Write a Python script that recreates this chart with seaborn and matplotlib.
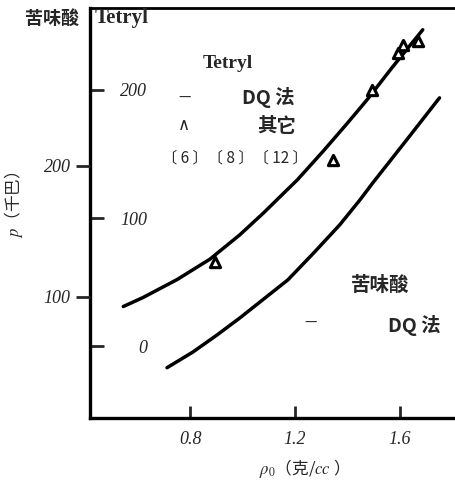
import matplotlib
matplotlib.use("Agg")
import matplotlib.pyplot as plt
import seaborn as sns
import pandas as pd

# Tetryl, DQ method curve (Tetryl scale, kbar)
tetryl_rho = [0.545, 0.62, 0.75, 0.876, 0.99, 1.08, 1.21, 1.307, 1.40, 1.474, 1.573, 1.688]
tetryl_p = [31, 38, 52, 68, 87, 104, 130, 152, 174, 192, 218, 247]
# Tetryl, other measurements [6][8][12]
other_rho = [0.895, 1.345, 1.493, 1.592, 1.611, 1.669]
other_p = [66, 145, 200, 229, 235, 238]
# Picric acid, DQ method curve (picric scale, kbar)
picric_rho = [0.712, 0.811, 0.903, 0.99, 1.173, 1.269, 1.371, 1.448, 1.497, 1.627, 1.752]
picric_p = [46, 58, 71, 84, 113, 133, 155, 174, 187, 220, 252]

x_ticks = [0.8, 1.2, 1.6]
x_ticklabels = ["0.8", "1.2", "1.6"]
tetryl_ticks = [0, 100, 200]
picric_ticks = [100, 200]

sns.set_style("white")
plt.rcParams["font.family"] = ["Noto Sans CJK SC", "DejaVu Sans"]
plt.rcParams["mathtext.fontset"] = "stix"

W, H = 456, 488
fig = plt.figure(figsize=(W / 100, H / 100), dpi=100)
ax = fig.add_axes([90 / W, (H - 418) / H, (W - 90) / W, 410 / H])
ax2 = ax.twinx()

t_df = pd.DataFrame({"rho": tetryl_rho, "p": tetryl_p})
o_df = pd.DataFrame({"rho": other_rho, "p": other_p})
p_df = pd.DataFrame({"rho": picric_rho, "p": picric_p})

sns.lineplot(data=t_df, x="rho", y="p", ax=ax, color="black", linewidth=2.5, sort=True)
sns.scatterplot(data=o_df, x="rho", y="p", ax=ax, marker="^", s=55,
                facecolor="white", edgecolor="black", linewidth=2.2, zorder=5)
sns.lineplot(data=p_df, x="rho", y="p", ax=ax2, color="black", linewidth=2.5, sort=True)

ax.set_xlim(0.418, 1.815)
ax.set_ylim(-56, 264)
ax2.set_ylim(7.6, 320.6)

for a in (ax, ax2):
    a.set_xlabel("")
    a.set_ylabel("")
    a.grid(False)

# spines
for s in ("left", "bottom"):
    ax.spines[s].set_linewidth(2.4)
    ax.spines[s].set_color("black")
ax.spines["top"].set_linewidth(2.0)
ax.spines["top"].set_color("black")
ax.spines["right"].set_visible(False)
for s in ax2.spines.values():
    s.set_visible(False)

tick_font = dict(family="Liberation Serif", style="italic", size=13)

ax.set_xticks(x_ticks)
ax.set_xticklabels(x_ticklabels, fontdict=tick_font)
ax.tick_params(axis="x", direction="in", length=9, width=2, pad=9, bottom=True)

ax.set_yticks(tetryl_ticks)
ax.set_yticklabels([str(v) for v in tetryl_ticks], fontdict=tick_font)
ax.tick_params(axis="y", direction="in", length=10, width=2, pad=-41, left=True)

ax2.yaxis.tick_left()
ax2.set_yticks(picric_ticks)
ax2.set_yticklabels([str(v) for v in picric_ticks], fontdict=tick_font)
ax2.tick_params(axis="y", direction="out", length=10, width=2, pad=4, left=True, right=False)

# axis titles
fig.text(52 / W, 1 - 18 / H, "苦味酸", ha="center", va="center", fontsize=13, fontweight="bold")
fig.text(95 / W, 1 - 18 / H, "Tetryl", ha="left", va="center", fontsize=15,
         family="Liberation Serif", fontweight="bold")
fig.text(14 / W, 1 - 205 / H, "$p$（千巴）", ha="center", va="center", rotation=90, fontsize=12)
fig.text(300 / W, 1 - 468 / H, r"$\rho_0$（克/$cc$ ）", ha="center", va="center", fontsize=12)

# in-plot legend texts
def ftxt(x, y, s, **kw):
    fig.text(x / W, 1 - y / H, s, ha="center", va="center", **kw)

ftxt(228, 64, "Tetryl", fontsize=14, family="Liberation Serif", fontweight="bold")
ftxt(185, 98, "—", fontsize=10)
ftxt(268, 98, "DQ 法", fontsize=14, fontweight="bold")
ftxt(184, 125, "∧", fontsize=12, family="DejaVu Sans")
ftxt(277, 127, "其它", fontsize=14, fontweight="bold")
ftxt(235, 158, "〔 6 〕〔 8 〕〔 12 〕", fontsize=11)
ftxt(380, 285, "苦味酸", fontsize=14, fontweight="bold")
ftxt(311, 323, "—", fontsize=10)
ftxt(414, 326, "DQ 法", fontsize=14, fontweight="bold")

fig.savefig("out.png", dpi=100)
